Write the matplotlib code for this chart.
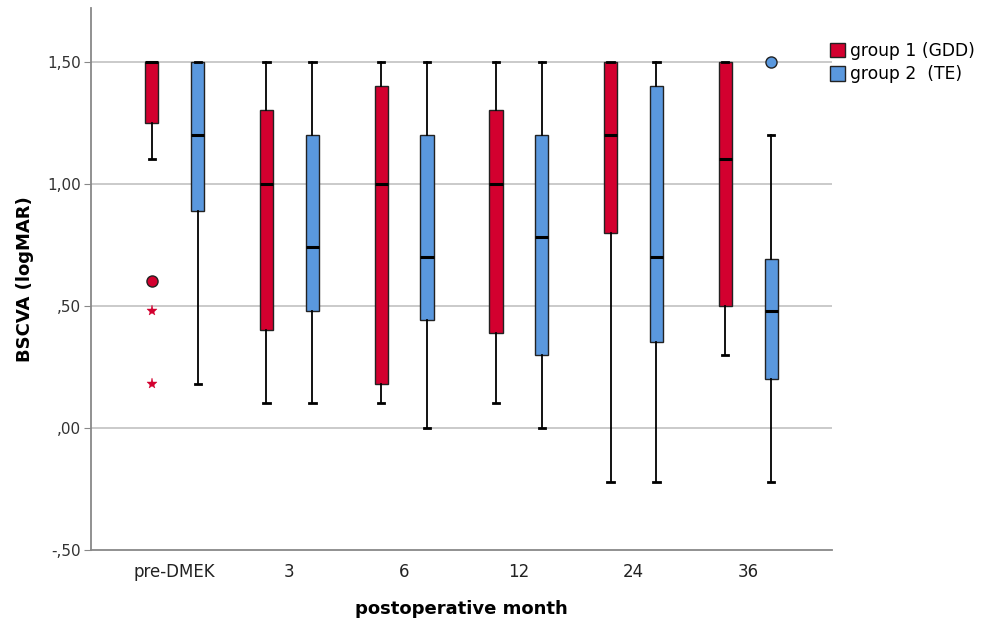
import matplotlib.pyplot as plt
from matplotlib.patches import Patch

months = ["pre-DMEK", "3", "6", "12", "24", "36"]
group_names = ["group 1 (GDD)", "group 2  (TE)"]
colors = ["#D3002F", "#5A98DE"]

# box stats: (whislo, q1, median, q3, whishi)
gdd = [
    (1.10, 1.25, 1.50, 1.50, 1.50),
    (0.10, 0.40, 1.00, 1.30, 1.50),
    (0.10, 0.18, 1.00, 1.40, 1.50),
    (0.10, 0.39, 1.00, 1.30, 1.50),
    (-0.22, 0.80, 1.20, 1.50, 1.50),
    (0.30, 0.50, 1.10, 1.50, 1.50),
]
te = [
    (0.18, 0.89, 1.20, 1.50, 1.50),
    (0.10, 0.48, 0.74, 1.20, 1.50),
    (0.00, 0.44, 0.70, 1.20, 1.50),
    (0.00, 0.30, 0.78, 1.20, 1.50),
    (-0.22, 0.35, 0.70, 1.40, 1.50),
    (-0.22, 0.20, 0.48, 0.69, 1.20),
]
# outliers: (group index, month index, value)
circles = [(0, 0, 0.60), (1, 5, 1.50)]
extremes = [(0, 0, 0.48), (0, 0, 0.18)]

yticks = [-0.5, 0.0, 0.5, 1.0, 1.5]
ytick_labels = ["-,50", ",00", ",50", "1,00", "1,50"]

fig = plt.figure(figsize=(9.88, 6.21), dpi=100)
ax = fig.add_axes([0.0921, 0.1143, 0.750, 0.873])

offset = 0.2
for gi, data in enumerate([gdd, te]):
    stats = []
    for lo, q1, med, q3, hi in data:
        stats.append({"whislo": lo, "q1": q1, "med": med, "q3": q3, "whishi": hi, "fliers": []})
    pos = [i + (offset if gi else -offset) for i in range(len(months))]
    ax.bxp(stats, positions=pos, widths=0.115, patch_artist=True, showfliers=False,
           boxprops=dict(facecolor=colors[gi], edgecolor="#222222", linewidth=1.0),
           medianprops=dict(color="black", linewidth=2.2),
           whiskerprops=dict(color="black", linewidth=1.3),
           capprops=dict(color="black", linewidth=2.0), capwidths=0.055,
           zorder=3)

for gi, mi, v in circles:
    x = mi + (offset if gi else -offset)
    ax.plot(x, v, "o", ms=8, mfc=colors[gi], mec="#222222", mew=1.0, zorder=4, clip_on=False)
for gi, mi, v in extremes:
    x = mi + (offset if gi else -offset)
    ax.plot(x, v, "*", ms=8, color=colors[gi], mec=colors[gi], mew=0.3, zorder=4)

ax.set_xlim(-0.73, 5.73)
ax.set_ylim(-0.5, 1.72)
ax.set_xticks(range(len(months)))
ax.set_xticklabels(months, fontsize=12, color="#222222")
ax.set_yticks(yticks)
ax.set_yticklabels(ytick_labels, fontsize=11, color="#333333")
ax.tick_params(axis="x", length=0, pad=9)
ax.tick_params(axis="y", length=5, color="#888888", pad=2)

for y in yticks[1:]:
    ax.axhline(y, color="#C6C6C6", linewidth=1.3, zorder=1)

for s in ["top", "right"]:
    ax.spines[s].set_visible(False)
for s in ["left", "bottom"]:
    ax.spines[s].set_color("#888888")
    ax.spines[s].set_linewidth(1.3)

ax.set_ylabel("BSCVA (logMAR)", fontsize=13, fontweight="bold", labelpad=10)
ax.set_xlabel("postoperative month", fontsize=13, fontweight="bold", labelpad=14)

handles = [Patch(facecolor=c, edgecolor="#222222", linewidth=1.0) for c in colors]
fig.legend(handles, group_names, loc="upper left", bbox_to_anchor=(0.840, 0.932),
           bbox_transform=fig.transFigure, frameon=False, fontsize=12.3,
           handlelength=0.9, handleheight=0.9, handletextpad=0.25,
           labelspacing=0.3, borderaxespad=0, borderpad=0)

fig.savefig("out.png", dpi=100)
